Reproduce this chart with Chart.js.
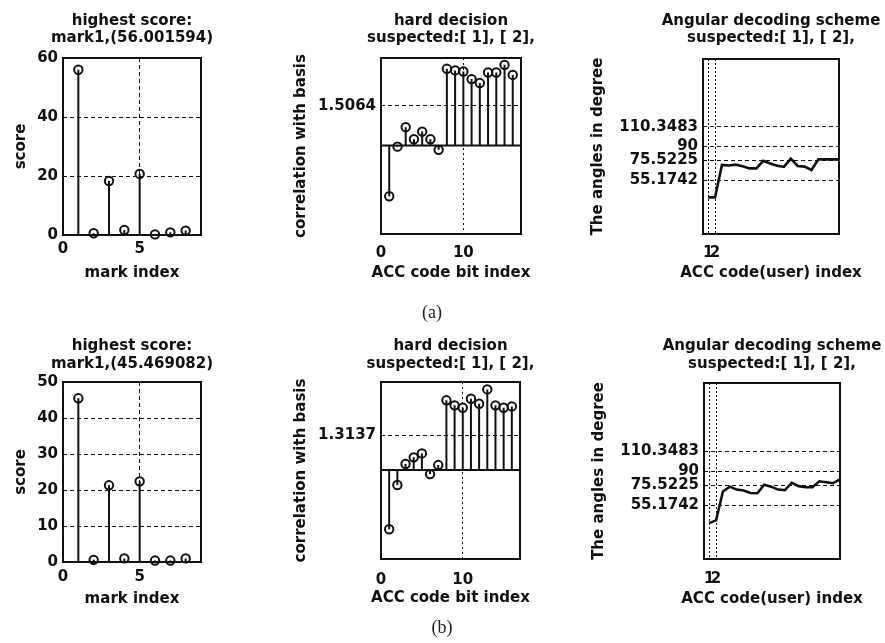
<!DOCTYPE html>
<html><head><meta charset="utf-8">
<script src="https://cdn.jsdelivr.net/npm/chart.js@4.4.1/dist/chart.umd.min.js"></script>
<style>
html,body{margin:0;padding:0;background:#fff;width:885px;height:643px;overflow:hidden;position:relative;}
.cell{position:absolute;}
.cell canvas{display:block;}
.lab{position:absolute;font-family:"Liberation Serif","Times New Roman",serif;font-size:18px;color:#222;transform:translate(-50%,-50%);white-space:nowrap;}
</style></head><body>
<div class="cell" style="left:0px;top:0px;width:264px;height:290px"><canvas id="a1"></canvas></div>
<div class="cell" style="left:280px;top:0px;width:342px;height:290px"><canvas id="a2"></canvas></div>
<div class="cell" style="left:580px;top:0px;width:382px;height:290px"><canvas id="a3"></canvas></div>
<div class="cell" style="left:0px;top:320px;width:264px;height:290px"><canvas id="b1"></canvas></div>
<div class="cell" style="left:280px;top:320px;width:341px;height:290px"><canvas id="b2"></canvas></div>
<div class="cell" style="left:580px;top:320px;width:384px;height:290px"><canvas id="b3"></canvas></div>
<div class="lab" style="left:432px;top:312px">(a)</div>
<div class="lab" style="left:442px;top:627px">(b)</div>
<script>
// ---------- data ----------
const markIndex = [1, 2, 3, 4, 5, 6, 7, 8];
const scoreA = [56.001594, 0.6, 18.3, 1.7, 20.7, 0.2, 0.9, 1.5];
const scoreB = [45.469082, 0.6, 21.3, 1.0, 22.4, 0.4, 0.4, 1.0];

const bitIndex = [1, 2, 3, 4, 5, 6, 7, 8, 9, 10, 11, 12, 13, 14, 15, 16];
const corrA = [-1.92, -0.04, 0.70, 0.24, 0.53, 0.24, -0.16, 2.91, 2.85, 2.81, 2.52, 2.37, 2.77, 2.77, 3.06, 2.68];
const corrB = [-2.23, -0.56, 0.23, 0.48, 0.63, -0.15, 0.19, 2.63, 2.44, 2.35, 2.69, 2.50, 3.04, 2.44, 2.35, 2.40];

const userIndex = [1, 2, 3, 4, 5, 6, 7, 8, 9, 10, 11, 12, 13, 14, 15, 16, 17, 18, 19, 20];
const angleA = [37.7, 37.7, 71.0, 70.5, 71.3, 69.8, 67.5, 67.5, 75.3, 72.6, 70.3, 69.0, 77.5, 70.0, 69.3, 65.8, 76.8, 76.8, 76.8, 76.8];
const angleB = [36.7, 39.5, 69.0, 74.0, 71.0, 70.0, 67.5, 67.2, 76.0, 74.0, 71.0, 70.5, 78.0, 74.5, 73.4, 73.4, 79.5, 78.5, 77.5, 81.5];

// tick values / labels
const scoreTicksA = [0, 20, 40, 60];
const scoreTicksB = [0, 10, 20, 30, 40, 50];
const markTicks = [0, 5];
const bitTicks = [0, 10];
const corrTicksA = [1.5064];
const corrLabelsA = ['1.5064'];
const corrTicksB = [1.3137];
const corrLabelsB = ['1.3137'];
const angleTicks = [55.1742, 75.5225, 90, 110.3483];
const angleLabels = ['55.1742', '75.5225', '90', '110.3483'];
const userTicks = [1, 2];

// texts
const titleScoreA = ['highest score:', 'mark1,(56.001594)'];
const titleScoreB = ['highest score:', 'mark1,(45.469082)'];
const titleHard = ['hard decision', 'suspected:[ 1], [ 2],'];
const titleAngular = ['Angular decoding scheme', 'suspected:[ 1], [ 2],'];

// axis limits
const markRange = [0, 9];
const bitRange = [0, 17];
const userRange = [0.25, 20];
const corrRange = [-3.35, 3.32];
const angleRange = [0, 180];

// ---------- helpers ----------
const INK = '#111';
const FAM = "'DejaVu Sans', 'Liberation Sans', sans-serif";
const F = (lh) => ({family: FAM, size: 15, weight: 'bold', lineHeight: lh || 1.2});

function stemPoints(xs, ys) {
  const out = [];
  xs.forEach((x, i) => { out.push({x: x, y: 0}, {x: x, y: ys[i]}, {x: x, y: null}); });
  return out;
}
function pts(xs, ys) { return xs.map((x, i) => ({x: x, y: ys[i]})); }
function lab(vals, labels, v) {
  const i = vals.findIndex(t => Math.abs(t - v) < 1e-9);
  if (i < 0) return '';
  return labels ? labels[i] : String(vals[i]);
}

// axes box (MATLAB "box on")
const boxPlugin = {
  id: 'box',
  afterDatasetsDraw(chart) {
    const {ctx, chartArea: a} = chart;
    ctx.save();
    ctx.strokeStyle = INK;
    ctx.lineWidth = 2;
    ctx.strokeRect(a.left, a.top, a.right - a.left, a.bottom - a.top);
    ctx.restore();
  }
};
// centre titles on the axes and let texts exceed the axes width
const centrePlugin = {
  id: 'centre',
  afterLayout(chart) {
    const a = chart.chartArea;
    const cx = (a.left + a.right) / 2, cy = (a.top + a.bottom) / 2;
    const W = 330;
    const t = chart.titleBlock;
    if (t) { t.left = cx - W / 2; t.right = cx + W / 2; t.width = W; }
    const xs = chart.scales.x;
    xs.left = cx - W / 2; xs.right = cx + W / 2; xs.width = W;
    const ys = chart.scales.y;
    ys.top = cy - 140; ys.bottom = cy + 140; ys.height = 280;
  }
};

function stemSets(xs, ys, range, baseline) {
  const sets = [
    {data: stemPoints(xs, ys), showLine: true, spanGaps: false, borderColor: INK, borderWidth: 2, pointRadius: 0},
    {data: pts(xs, ys), showLine: false, pointStyle: 'circle', pointRadius: 4.2, borderWidth: 2,
     borderColor: INK, backgroundColor: 'rgba(0,0,0,0)'}
  ];
  if (baseline) {
    sets.push({data: [{x: range[0], y: 0}, {x: range[1], y: 0}], showLine: true, borderColor: INK, borderWidth: 2, pointRadius: 0});
  }
  return sets;
}

function build(id, o) {
  return new Chart(document.getElementById(id), {
    type: 'scatter',
    data: {datasets: o.datasets},
    options: {
      responsive: true, maintainAspectRatio: false, animation: false, events: [],
      layout: {padding: {left: 0, right: o.padR, top: 0, bottom: 0}},
      plugins: {
        legend: {display: false}, tooltip: {enabled: false},
        title: {display: true, text: o.title, color: INK, font: F(1.15), padding: {top: o.tT, bottom: o.tB}}
      },
      scales: {
        x: {
          type: 'linear', min: o.xr[0], max: o.xr[1],
          afterBuildTicks: s => { s.ticks = o.xTicks.map(v => ({value: v})); },
          afterFit: s => { s.height = o.hX; },
          ticks: {autoSkip: false, maxRotation: 0, minRotation: 0, padding: o.xPad, color: INK, font: F(),
                  callback: v => lab(o.xTicks, o.xLabels, v)},
          grid: {color: INK, lineWidth: 1, drawTicks: false},
          border: {display: false, dash: o.xDash},
          title: {display: true, text: o.xTitle, color: INK, font: F(), padding: {top: 0, bottom: o.xtB}}
        },
        y: {
          type: 'linear', min: o.yr[0], max: o.yr[1],
          afterBuildTicks: s => { s.ticks = o.yTicks.map(v => ({value: v})); },
          afterFit: s => { s.width = o.wY; },
          ticks: {autoSkip: false, padding: 5, color: INK, font: F(),
                  callback: v => lab(o.yTicks, o.yLabels, v)},
          grid: {color: INK, lineWidth: 1, drawTicks: false},
          border: {display: false, dash: [4, 3]},
          title: {display: true, text: o.yTitle, color: INK, font: F(), padding: {top: o.ytT, bottom: 0}}
        }
      }
    },
    plugins: [boxPlugin, centrePlugin]
  });
}

// ---------- (a) ----------
build('a1', {
  datasets: stemSets(markIndex, scoreA, markRange, false),
  title: titleScoreA, tT: 12.4, tB: 11.1, padR: 63, wY: 63, hX: 55,
  xr: markRange, xTicks: markTicks, xPad: 5, xDash: [4, 3], xTitle: 'mark index', xtB: 7.4,
  yr: [0, 60], yTicks: scoreTicksA, yTitle: 'score', ytT: 11.9
});
build('a2', {
  datasets: stemSets(bitIndex, corrA, bitRange, true),
  title: titleHard, tT: 12.4, tB: 11.1, padR: 101, wY: 101, hX: 56,
  xr: bitRange, xTicks: bitTicks, xPad: 10.5, xDash: [2, 3], xTitle: 'ACC code bit index', xtB: 7.4,
  yr: corrRange, yTicks: corrTicksA, yLabels: corrLabelsA, yTitle: 'correlation with basis', ytT: 12.4
});
build('a3', {
  datasets: [{data: pts(userIndex, angleA), showLine: true, borderColor: INK, borderWidth: 2.6, pointRadius: 0, tension: 0}],
  title: titleAngular, tT: 12.4, tB: 12.1, padR: 123, wY: 123, hX: 56,
  xr: userRange, xTicks: userTicks, xPad: 10.5, xDash: [2, 2], xTitle: 'ACC code(user) index', xtB: 7.4,
  yr: angleRange, yTicks: angleTicks, yLabels: angleLabels, yTitle: 'The angles in degree', ytT: 8.9
});

// ---------- (b) ----------
build('b1', {
  datasets: stemSets(markIndex, scoreB, markRange, false),
  title: titleScoreB, tT: 17.9, tB: 9.6, padR: 63, wY: 63, hX: 48,
  xr: markRange, xTicks: markTicks, xPad: 6.5, xDash: [4, 3], xTitle: 'mark index', xtB: 1.6,
  yr: [0, 50], yTicks: scoreTicksB, yTitle: 'score', ytT: 11.9
});
build('b2', {
  datasets: stemSets(bitIndex, corrB, bitRange, true),
  title: titleHard, tT: 17.9, tB: 9.6, padR: 101, wY: 101, hX: 51,
  xr: bitRange, xTicks: bitTicks, xPad: 12, xDash: [2, 3], xTitle: 'ACC code bit index', xtB: 2.6,
  yr: corrRange, yTicks: corrTicksB, yLabels: corrLabelsB, yTitle: 'correlation with basis', ytT: 12.4
});
build('b3', {
  datasets: [{data: pts(userIndex, angleB), showLine: true, borderColor: INK, borderWidth: 2.6, pointRadius: 0, tension: 0}],
  title: titleAngular, tT: 17.9, tB: 10.6, padR: 124, wY: 124, hX: 51,
  xr: userRange, xTicks: userTicks, xPad: 11, xDash: [2, 2], xTitle: 'ACC code(user) index', xtB: 1.6,
  yr: angleRange, yTicks: angleTicks, yLabels: angleLabels, yTitle: 'The angles in degree', ytT: 10.1
});
</script>
</body></html>
